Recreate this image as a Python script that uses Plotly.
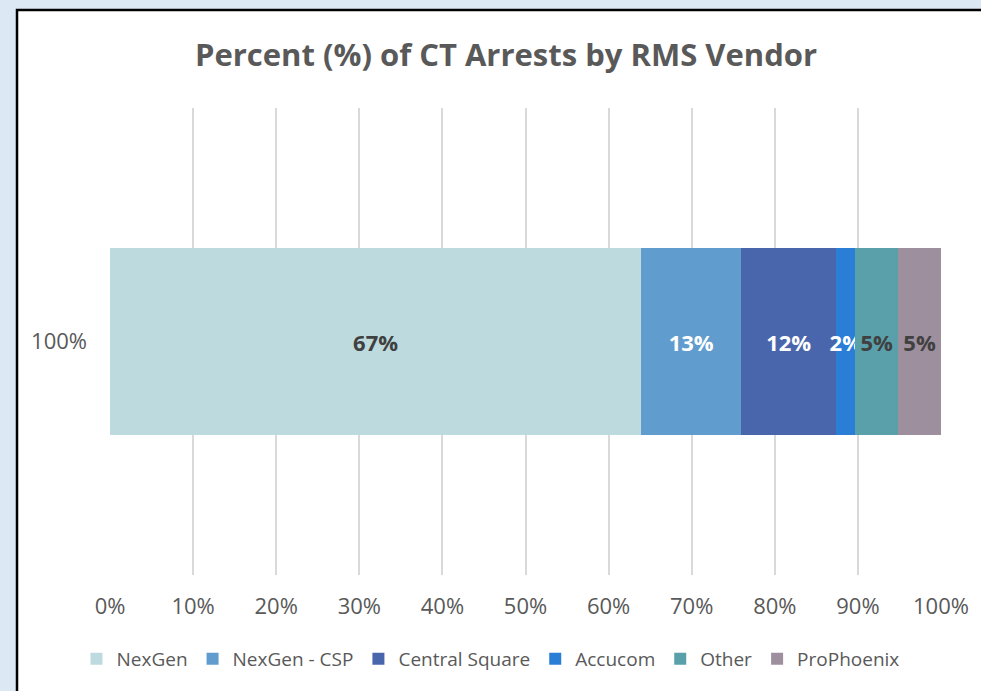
import plotly.graph_objects as go

categories = ["100%"]
vendors = ["NexGen", "NexGen - CSP", "Central Square", "Accucom", "Other", "ProPhoenix"]
values = [0.67, 0.126, 0.12, 0.024, 0.054, 0.054]
colors = ["#BDDBDF", "#609CCE", "#4966AC", "#2A7ED6", "#59A0AA", "#9E8F9E"]
text_colors = ["#404040", "#FFFFFF", "#FFFFFF", "#FFFFFF", "#404040", "#404040"]
x_ticks = list(range(0, 101, 10))
x_tick_labels = [f"{t}%" for t in x_ticks]

FONT = "Open Sans"

fig = go.Figure()
for name, v, c, tc in zip(vendors, values, colors, text_colors):
    fig.add_trace(go.Bar(
        y=categories, x=[v], name=name, orientation="h",
        marker=dict(color=c, line=dict(width=0)),
        text=[f"{round(v * 100)}%"], textposition="inside",
        insidetextanchor="middle", constraintext="none", textangle=0,
        textfont=dict(family=FONT, size=22, color=tc, weight="bold"),
        hoverinfo="skip",
    ))

L, R, T, B = 110, 40, 108, 116
W, H = 981, 691
pw, ph = W - L - R, H - T - B

def px_x(p):
    return (p - L) / pw

def px_y(p):
    return (H - B - p) / ph

fig.add_shape(type="rect", xref="paper", yref="paper",
              x0=px_x(17), x1=px_x(1000), y0=px_y(710), y1=px_y(10),
              fillcolor="white", line=dict(color="black", width=2.5), layer="below")

fig.update_layout(
    width=W, height=H,
    margin=dict(l=L, r=R, t=T, b=B, autoexpand=False),
    barmode="stack", barnorm="percent", bargap=0.6,
    paper_bgcolor="#DCE8F4", plot_bgcolor="rgba(0,0,0,0)",
    title=dict(text="<b>Percent (%) of CT Arrests by RMS Vendor</b>",
               x=506 / W, xanchor="center", y=1 - 55 / H, yanchor="middle",
               font=dict(family=FONT, size=31, color="#595959")),
    xaxis=dict(range=[0, 100], tickvals=x_ticks, ticktext=x_tick_labels,
               showgrid=True, gridcolor="#D9D9D9", gridwidth=1.5,
               zeroline=False, showline=False, ticks="",
               ticklabelstandoff=16,
               tickfont=dict(family=FONT, size=22, color="#595959")),
    yaxis=dict(type="category", showgrid=False, zeroline=False, showline=False,
               ticks="", ticklabelstandoff=22,
               tickfont=dict(family=FONT, size=22, color="#595959")),
    legend=dict(orientation="h", xref="container", yref="container",
                x=0.5, xanchor="center",
                y=1 - 659 / H, yanchor="middle", traceorder="normal",
                font=dict(family=FONT, size=19, color="#595959"),
                itemwidth=30, bgcolor="rgba(0,0,0,0)"),
    showlegend=True,
)

fig.write_html("out.html", config={"displayModeBar": False},
               post_script="document.body.style.margin='0';document.body.style.overflow='hidden';")
